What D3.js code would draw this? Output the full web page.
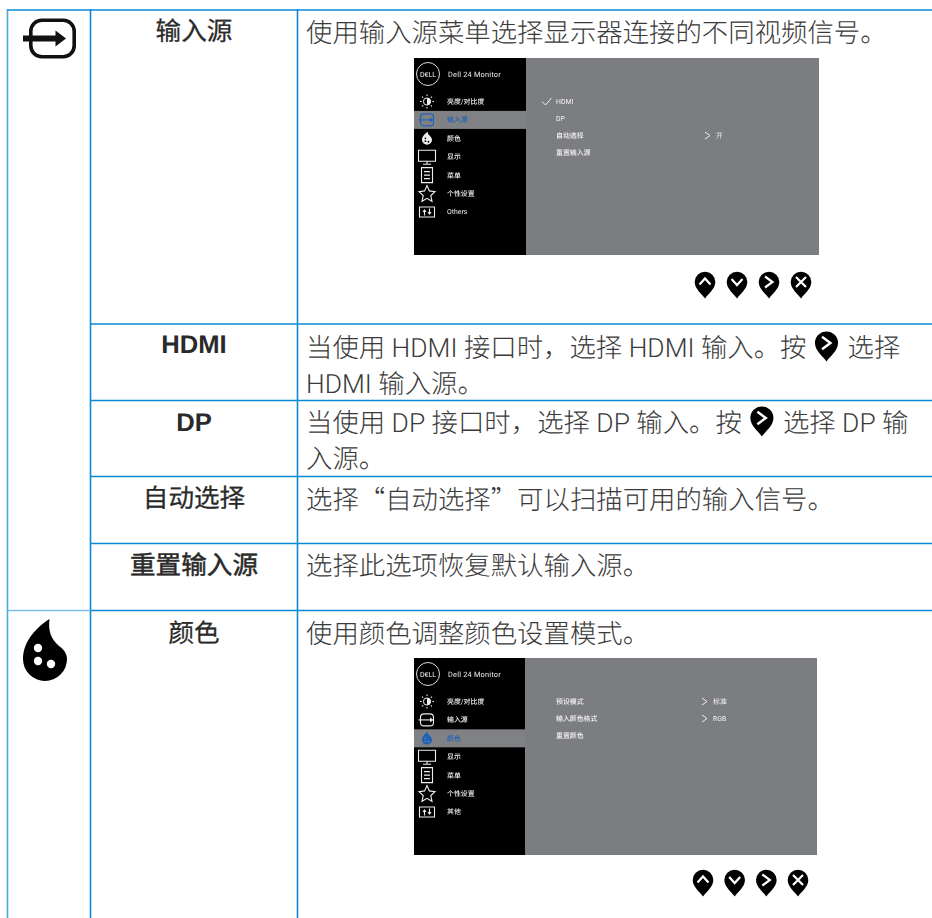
<!DOCTYPE html>
<html>
<head>
<meta charset="utf-8">
<script src="https://cdn.jsdelivr.net/npm/d3@7"></script>
<style>
  @font-face { font-family: Lat; src: local("Roboto Light"), local("Roboto-Light"); font-weight: 300; unicode-range: U+0020-007E; }
  @font-face { font-family: Lat; src: local("Roboto"), local("Roboto-Regular"); font-weight: 400 500; unicode-range: U+0020-007E; }
  html, body { margin: 0; padding: 0; background: #fff; overflow: hidden; }
  svg { display: block; }
  text { font-family: Lat, "Noto Sans CJK SC", sans-serif; text-rendering: geometricPrecision; }
</style>
</head>
<body>
<svg id="page" width="932" height="918"></svg>
<script>
// Table content
const leftLabels = ["输入源", "HDMI", "DP", "自动选择", "重置输入源", "颜色"];
// "pin" marks where the inline button icon sits in a line
const bodyLines = [
  [["使用输入源菜单选择显示器连接的不同视频信号。"]],
  [["当使用 HDMI 接口时\uFF0C选择 HDMI 输入。按", "pin", "选择"], ["HDMI 输入源。"]],
  [["当使用 DP 接口时\uFF0C选择 DP 输入。按", "pin", "选择 DP 输"], ["入源。"]],
  [["选择“自动选择”可以扫描可用的输入信号。"]],
  [["选择此选项恢复默认输入源。"]],
  [["使用颜色调整颜色设置模式。"]]
];
const rowTops = [10, 324, 400.5, 476.5, 543.5, 610.5];
const labelCentres = [31, 344, 422, 498, 565, 633];
const bodyFirstLine = [32, 347, 422, 499, 565, 633];
const columnEdges = [7.5, 90.5, 297.5];

// OSD screenshots
const menuIcons = ["sun", "input", "drop", "monitor", "doc", "star", "sliders"];
const menuOne = {
  items: ["亮度/对比度", "输入源", "颜色", "显示", "菜单", "个性设置", "Others"],
  active: 1,
  sub: ["HDMI", "DP", "自动选择", "重置输入源"],
  values: [null, null, "开", null],
  checked: 0
};
const menuTwo = {
  items: ["亮度/对比度", "输入源", "颜色", "显示", "菜单", "个性设置", "其他"],
  active: 2,
  sub: ["预设模式", "输入颜色格式", "重置颜色"],
  values: ["标准", "RGB", null],
  checked: -1
};
const pinKinds = ["up", "down", "right", "close"];

const blue = "#0a8ad6";
const svg = d3.select("#page");
const defs = svg.append("defs");
defs.append("filter").attr("id", "soft").append("feGaussianBlur").attr("stdDeviation", 0.3);

// Grid lines
const grid = svg.append("g");
const yRow = d3.scaleLinear().domain([0, 918]).range([0, 918]);
grid.selectAll("line.v").data(columnEdges).join("line")
  .attr("x1", d => d).attr("x2", d => d)
  .attr("y1", yRow(rowTops[0]) - 1).attr("y2", 918)
  .attr("stroke", (d, i) => (i === 0 ? "#4aa8e2" : blue)).attr("stroke-width", 1.6);
grid.selectAll("line.h").data(rowTops).join("line")
  .attr("x1", (d, i) => (i === 0 ? columnEdges[0] : columnEdges[1]))
  .attr("x2", 932)
  .attr("y1", d => yRow(d)).attr("y2", d => yRow(d))
  .attr("stroke", blue).attr("stroke-width", 1.6);
grid.append("line")
  .attr("x1", columnEdges[0]).attr("x2", columnEdges[1])
  .attr("y1", yRow(rowTops[5])).attr("y2", yRow(rowTops[5]))
  .attr("stroke", "#7dbdea").attr("stroke-width", 1.6);

// Left column labels
svg.append("g").selectAll("text").data(leftLabels).join("text")
  .attr("x", (columnEdges[1] + columnEdges[2]) / 2)
  .attr("y", (d, i) => yRow(labelCentres[i]))
  .attr("dy", "0.36em")
  .attr("text-anchor", "middle")
  .attr("font-size", 25.6)
  .attr("font-weight", (d, i) => (i === 1 || i === 2 ? 700 : 400))
  .style("font-family", (d, i) => (i === 1 || i === 2 ? '"Liberation Sans"' : null))
  .attr("stroke", "#2a2a2a")
  .attr("stroke-width", (d, i) => (i === 4 ? 0.5 : i === 1 || i === 2 ? 0 : 0.25))
  .attr("fill", "#2a2a2a")
  .text(d => d);

// Map pin button used below the menus and inline in the text
function drawPin(parent, x, y, kind, s) {
  const g = parent.append("g").attr("transform", `translate(${x},${y}) scale(${s})`);
  g.append("path")
    .attr("d", "M0,16.5 C-3,12 -10.3,7 -10.3,0 A10.3,10.3 0 1 1 10.3,0 C10.3,7 3,12 0,16.5Z")
    .attr("fill", "#000");
  const marks = {
    up: "M-5.5,2.5 L0,-3.5 L5.5,2.5",
    down: "M-5.5,-3 L0,3 L5.5,-3",
    right: "M-4,-5.5 L3.5,0 L-4,5.5",
    close: "M-5,-5 L5,5 M5,-5 L-5,5"
  };
  g.append("path").attr("d", marks[kind]).attr("fill", "none")
    .attr("stroke", "#fff").attr("stroke-width", 2.2);
}

// Body text, flowed so the inline pin follows the text width
const bodyG = svg.append("g");
const bodyX = 306, lineGap = 36, bodySize = 26.4;
bodyLines.forEach((lines, r) => {
  lines.forEach((parts, l) => {
    let x = bodyX;
    const y = yRow(bodyFirstLine[r]) + l * lineGap;
    parts.forEach(part => {
      if (part === "pin") {
        x += 8;
        drawPin(bodyG, x + 12, y - 4, "right", 1.12);
        x += 33;
        return;
      }
      const t = bodyG.append("text")
        .attr("x", x).attr("y", y).attr("dy", "0.36em")
        .attr("font-size", bodySize).attr("font-weight", 300)
        .attr("fill", "#3a3a3a").text(part);
      x += t.node().getComputedTextLength();
    });
  });
});

// Small icons for the side of the menu, drawn around their centre
function drawIcon(g, name, colour) {
  const line = s => g.append("path").attr("d", s).attr("fill", "none")
    .attr("stroke", colour).attr("stroke-width", 1.1);
  const fill = s => g.append("path").attr("d", s).attr("fill", colour);
  if (name === "sun") {
    g.append("circle").attr("r", 3.6).attr("fill", "none").attr("stroke", colour);
    fill("M0,-3.6 A3.6,3.6 0 0 1 0,3.6Z");
    d3.range(8).forEach(i => {
      const a = i * Math.PI / 4;
      line(`M${5.4 * Math.cos(a)},${5.4 * Math.sin(a)} L${7 * Math.cos(a)},${7 * Math.sin(a)}`);
    });
  } else if (name === "input") {
    g.append("rect").attr("x", -6.5).attr("y", -6).attr("width", 13).attr("height", 12).attr("rx", 3.5)
      .attr("fill", "none").attr("stroke", colour).attr("stroke-width", 1.1);
    line("M-8.5,0 H5");
    fill("M3,-2.3 L6.5,0 L3,2.3Z");
  } else if (name === "drop") {
    fill("M0.8,-6.5 C0,-3.5 5,-2 5,1.5 A5,5 0 1 1 -5,1.5 C-5,-2 -2,-4.5 0.8,-6.5Z");
    const hole = colour === "#eee" ? "#000" : "#808184";
    [[-1.6, 0], [-1.6, 2.8], [1.4, 3.4]].forEach(p => {
      g.append("circle").attr("cx", p[0]).attr("cy", p[1]).attr("r", 0.9).attr("fill", hole);
    });
  } else if (name === "monitor") {
    line("M-8.5,-6.5 H8.5 V4.5 H-8.5Z M0,4.5 V7 M-4,7.5 H4");
  } else if (name === "doc") {
    line("M-5.5,-7.5 H5.5 V7.5 H-5.5Z M-3,-3.5 H3 M-3,0 H3 M-3,3.5 H3");
  } else if (name === "star") {
    line("M0,-8 L2.4,-2.7 L8,-2 L3.8,1.9 L5,7.7 L0,4.8 L-5,7.7 L-3.8,1.9 L-8,-2 L-2.4,-2.7Z");
  } else {
    line("M-7.5,-5 H7.5 V5 H-7.5Z M-2.5,-2 V3.5 M2.5,-3.5 V2");
    line("M-4,0 L-2.5,-2 L-1,0 M1,0 L2.5,2 L4,0");
  }
}

// One OSD screenshot
function drawMenu(menu, box) {
  const g = svg.append("g");
  g.append("rect").attr("x", box.left).attr("y", box.top)
    .attr("width", box.right - box.left).attr("height", box.bottom - box.top).attr("fill", "#7c7d81");
  g.append("rect").attr("x", box.left).attr("y", box.top)
    .attr("width", box.split - box.left).attr("height", box.bottom - box.top).attr("fill", "#000");

  const yItem = d3.scaleLinear().domain([0, 6]).range([box.top + 43.5, box.top + 154]);
  const ySub = d3.scaleLinear().domain([0, 3]).range([box.top + 43.5, box.top + 94.5]);

  g.append("rect").attr("x", box.left).attr("width", box.split - box.left)
    .attr("y", yItem(menu.active) - 9).attr("height", 18).attr("fill", "#808184");

  // logo and title
  const logoX = box.left + 14, titleY = box.top + 16;
  g.append("circle").attr("cx", logoX).attr("cy", titleY).attr("r", 11.5)
    .attr("fill", "none").attr("stroke", "#ddd").attr("stroke-width", 1);
  const t = g.append("g").attr("filter", "url(#soft)");
  t.append("text").attr("x", logoX).attr("y", titleY).attr("dy", "0.36em")
    .attr("text-anchor", "middle").attr("font-size", 7).attr("font-weight", 500)
    .attr("fill", "#eee").text("D€LL");
  t.append("text").attr("x", box.left + 34).attr("y", titleY).attr("dy", "0.36em")
    .attr("font-size", 7.4).attr("font-weight", 500).attr("letter-spacing", 0.2).attr("fill", "#eee").text("Dell 24 Monitor");

  t.selectAll("text.item").data(menu.items).join("text")
    .attr("x", box.left + 33).attr("y", (d, i) => yItem(i)).attr("dy", "0.36em")
    .attr("font-size", 6.9).attr("font-weight", 500)
    .attr("fill", (d, i) => (i === menu.active ? "#1c63b8" : "#f2f2f2"))
    .text(d => d);

  menuIcons.forEach((name, i) => {
    const ig = g.append("g").attr("transform", `translate(${box.left + 13},${yItem(i)})`);
    drawIcon(ig, name, i === menu.active ? "#1c63b8" : "#eee");
  });

  t.selectAll("text.sub").data(menu.sub).join("text")
    .attr("x", box.left + 142).attr("y", (d, i) => ySub(i)).attr("dy", "0.36em")
    .attr("font-size", 6.9).attr("font-weight", 500).attr("fill", "#f2f2f2")
    .text(d => d);

  menu.sub.forEach((d, i) => {
    if (i === menu.checked) {
      g.append("path").attr("d", `M${box.left + 128},${ySub(i)} l3.5,3.5 l6,-7`)
        .attr("fill", "none").attr("stroke", "#eee");
    }
    if (menu.values[i]) {
      g.append("path").attr("d", `M${box.left + box.valueX},${ySub(i) - 3.5} l5,3.5 l-5,3.5`)
        .attr("fill", "none").attr("stroke", "#eee");
      t.append("text").attr("x", box.left + box.valueX + 11).attr("y", ySub(i)).attr("dy", "0.36em")
        .attr("font-size", 6.9).attr("fill", "#f2f2f2").text(menu.values[i]);
    }
  });

  const xPin = d3.scalePoint().domain(pinKinds).range([box.pinStart, box.pinEnd]);
  pinKinds.forEach(k => drawPin(svg, xPin(k), box.pinY, k, 1));
}

drawMenu(menuOne, { left: 414, split: 526, right: 819, top: 58, bottom: 255, valueX: 291, pinStart: 705, pinEnd: 801, pinY: 282 });
drawMenu(menuTwo, { left: 414, split: 525, right: 817, top: 658, bottom: 855, valueX: 288, pinStart: 703, pinEnd: 798, pinY: 880 });

// Large section icons
const inputIcon = svg.append("g").attr("transform", "translate(52.5,38.5)");
inputIcon.append("rect")
  .attr("x", -21.7).attr("y", -18.2).attr("width", 43.4).attr("height", 36.4).attr("rx", 11)
  .attr("fill", "none").attr("stroke", "#111").attr("stroke-width", 3.6);
inputIcon.append("path").attr("d", "M-29.5,-3 H3 V-8 L13.5,0 L3,8 V3 H-29.5Z").attr("fill", "#111");

const dropIcon = svg.append("g").attr("transform", "translate(45,659)");
dropIcon.append("path")
  .attr("d", "M4.5,-40 C3,-28 6,-20 14,-13 C20,-9 22,-4 22,0 A22,22 0 1 1 -22,0 C-22,-18 -8,-32 4.5,-40Z")
  .attr("fill", "#000");
dropIcon.selectAll("circle").data(d3.range(3)).join("circle")
  .attr("cx", i => [-7, -7, 6][i]).attr("cy", i => [-11, 2, 5][i]).attr("r", 4.2).attr("fill", "#fff");
</script>
</body>
</html>
